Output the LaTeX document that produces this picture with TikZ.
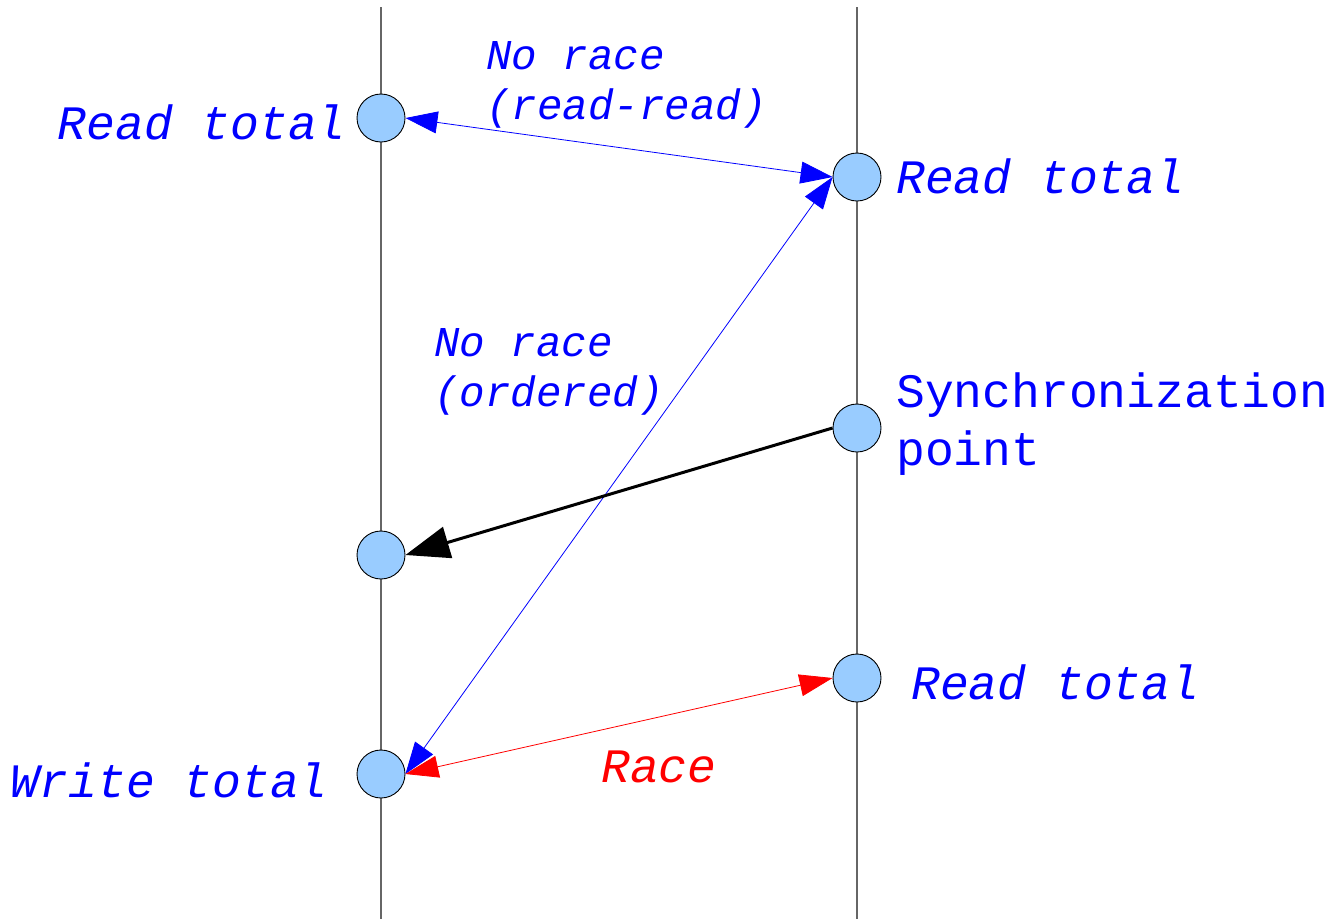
\documentclass[tikz,border=0pt]{standalone}
\usepackage{fontspec}
\setmainfont{Liberation Mono}
\newfontfamily\monof{Liberation Mono}
\usetikzlibrary{arrows.meta}
\definecolor{evfill}{HTML}{99CCFF}
\definecolor{lifeline}{HTML}{666666}
\tikzset{
  event/.style={circle, draw=black, line width=0.9pt, fill=evfill, minimum size=48pt, inner sep=0pt},
  life/.style={draw=lifeline, line width=1.2pt},
  biglbl/.style={inner sep=0pt, text=blue, font=\monof\itshape\fontsize{48}{57.6}\selectfont, align=left},
  smalllbl/.style={inner sep=0pt, text=blue, font=\monof\itshape\fontsize{42.5}{50}\selectfont, align=left},
  synclbl/.style={inner sep=0pt, text=blue, font=\monof\fontsize{48}{58}\selectfont, align=left},
  bluearr/.style={draw=blue, line width=0.8pt, {Triangle[length=32pt,width=22pt]}-{Triangle[length=32pt,width=22pt]}},
  redarr/.style={draw=red, line width=0.8pt, {Triangle[length=33pt,width=22pt]}-{Triangle[length=33pt,width=22pt]}},
  blackarr/.style={draw=black, line width=3pt, -{Triangle[length=44pt,width=32pt]}},
}
\begin{document}
\begin{tikzpicture}[x=1pt,y=-1pt]
\useasboundingbox (0,0) rectangle (1332,919);
% lifelines
\coordinate (Lt) at (381,7);
\coordinate (Lb) at (381,919);
\coordinate (Rt) at (857,7);
\coordinate (Rb) at (857,919);
\draw[life] (Lt) -- (Lb);
\draw[life] (Rt) -- (Rb);
% events
\node[event] (l1) at (381,118) {};
\node[event] (r1) at (857,177) {};
\node[event] (rs) at (857,428) {};
\node[event] (l2) at (381,555) {};
\node[event] (r2) at (857,678) {};
\node[event] (l3) at (381,774) {};
% connectors
\draw[bluearr] (l1.east) -- (r1.west);
\draw[bluearr] (l3.east) -- (r1.west);
\draw[blackarr] (rs.west) -- (l2.east);
\draw[redarr] (l3.east) -- (r2.west);
% labels
\node[biglbl, anchor=east] (t1) at (346,122) {Read total};
\node[biglbl, anchor=west] (t2) at (896,176) {Read total};
\node[biglbl, anchor=west] (t3) at (911,682) {Read total};
\node[biglbl, anchor=east] (t4) at (328,780) {Write total};
\node[biglbl, anchor=west, text=red] (t5) at (601,767) {Race};
\node[smalllbl, anchor=west] (t6) at (486,85) {No race\\(read-read)};
\node[smalllbl, anchor=west] (t7) at (434,372) {No race\\(ordered)};
\node[synclbl, anchor=west] (t8) at (896,424) {Synchronization\\point};
\end{tikzpicture}
\end{document}
